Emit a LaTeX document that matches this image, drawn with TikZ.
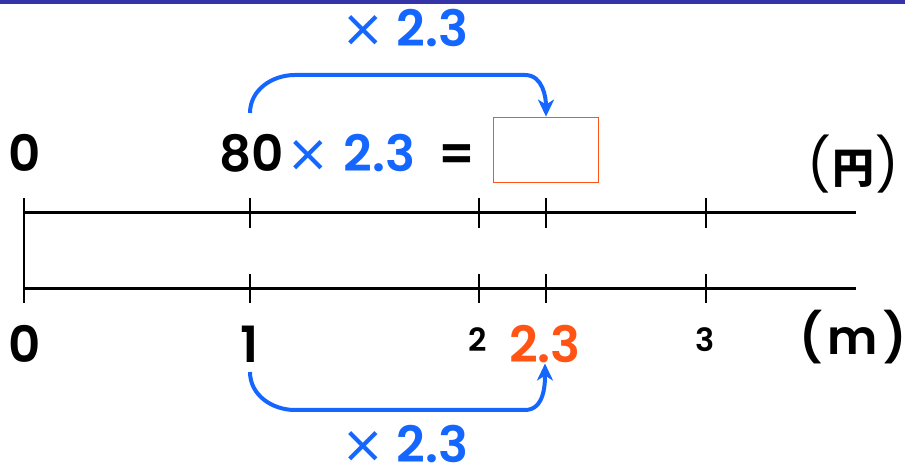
\documentclass[tikz,border=0pt]{standalone}
\usepackage{fontspec}
\setmainfont{Poppins}[BoldFont={Poppins SemiBold}]
\newfontfamily\cjk{Noto Sans CJK JP}
\newfontfamily\dejavu{DejaVu Sans}
\newcommand{\tms}{{\dejavu\mdseries\fontsize{52}{52}\selectfont ×}}
\usetikzlibrary{arrows.meta}
\definecolor{barblue}{RGB}{52,52,168}
\definecolor{mblue}{RGB}{20,102,255}
\definecolor{morange}{RGB}{255,84,20}
\tikzset{
  lbl/.style={inner sep=0pt, anchor=base, font=\fontsize{50}{50}\selectfont\bfseries},
  small/.style={inner sep=0pt, anchor=base, font=\fontsize{32}{32}\selectfont\bfseries},
  axis/.style={line width=3pt, black},
  tick/.style={line width=1.8pt, black},
  arr/.style={line width=4pt, mblue, -{Stealth[length=17pt,width=16pt,inset=5pt]}},
}
\begin{document}
\begin{tikzpicture}[x=1pt,y=1pt]
\useasboundingbox (0,0) rectangle (905,474);
\fill[barblue] (0,470) rectangle (905,474);
% top texts
\node[lbl, text=mblue] (ttop) at (405,427) {\tms\hspace{12pt}2.3};
\node[lbl] (zerotop) at (25,302) {0};
\node[lbl] (eighty) at (252,302) {80};
\node[lbl, text=mblue, anchor=base west] (mult) at (286,302) {\tms\hspace{14pt}2.3};
\node[lbl, anchor=base west] (eq) at (438,302) {=};
\node[draw=morange, line width=1.8pt, minimum width=105pt, minimum height=65pt, inner sep=0pt] (box) at (546,324) {};
\node[inner sep=0pt, font=\fontsize{52}{52}\selectfont\mdseries] (yen) at (853,310) {(\hspace{1pt}{\cjk\bfseries\fontsize{42}{42}\selectfont 円}\hspace{1pt})};
% axes
\coordinate (a0) at (24,261);
\coordinate (a1) at (856,261);
\coordinate (b0) at (24,185);
\coordinate (b1) at (856,185);
\draw[axis] (a0) -- (a1);
\draw[axis] (b0) -- (b1);
\draw[tick] (24,276) -- (24,171);
\foreach \x in {250,479,546,706}{
  \draw[tick] (\x,276) -- (\x,246);
  \draw[tick] (\x,200) -- (\x,171);
}
% bottom labels
\node[lbl] (zerobot) at (25,111) {0};
\node[lbl] (one) at (250,111) {1};
\node[small] (two) at (478,122) {2};
\node[lbl, text=morange] (val) at (545,111) {2.3};
\node[small] (three) at (705,122) {3};
\node[inner sep=0pt, font=\fontsize{48}{48}\selectfont\bfseries] (m) at (853,137) {(\hspace{5pt}m\hspace{5pt})};
\node[lbl, text=mblue] (tbot) at (405,12) {\tms\hspace{12pt}2.3};
% arrows
\draw[arr] (250,361) to[out=90,in=180] (295,399) -- (525,399) to[out=0,in=90] (box.north);
\draw[arr] (250,102) to[out=-90,in=180] (295,64) -- (525,64) to[out=0,in=-90] (val.south);
\end{tikzpicture}
\end{document}
